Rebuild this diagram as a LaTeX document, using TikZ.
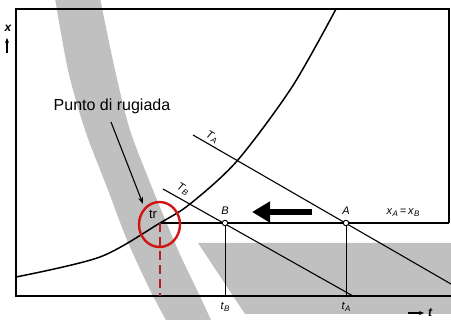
\documentclass[tikz,border=0pt]{standalone}
\usepackage{fontspec}
\setmainfont{Liberation Sans}
\usetikzlibrary{arrows.meta,positioning}
\definecolor{bandgray}{RGB}{192,192,192}
\definecolor{ringred}{RGB}{210,20,20}
\definecolor{dashred}{RGB}{185,30,30}
\newcommand{\sublbl}[2]{#1\kern0.5pt\raisebox{-0.35ex}{\fontsize{8}{8}\selectfont #2}}

\begin{document}
\begin{tikzpicture}[
    x=1pt, y=-1pt,
    frame/.style={line width=1.4pt},
    iso/.style={line width=1.1pt},
    drop/.style={line width=0.9pt},
    lbl/.style={font=\fontsize{11}{12}\selectfont\itshape, inner sep=0pt},
    pt/.style={circle, draw, fill=white, line width=0.9pt, inner sep=0pt, minimum size=5.5pt}
]
    \useasboundingbox (0,0) rectangle (451,320);
    % gray bands
    \begin{scope}
        \clip (0,0) rectangle (451,320);
        \fill[bandgray] plot[smooth] coordinates {(55,-2) (68,70) (85,130) (108,190) (127,240) (150,290) (167,322)}
            -- plot[smooth] coordinates {(212,322) (197,290) (178,250) (153,190) (130,130) (115,70) (100,-2)} -- cycle;
        \fill[bandgray] (198,243) -- (451,243) -- (451,314) -- (245,314) -- cycle;
    \end{scope}

    % frame
    \coordinate (tl) at (16,9);
    \coordinate (tr0) at (449,9);
    \coordinate (bl) at (16,296);
    \coordinate (br) at (451,296);
    \coordinate (xend) at (449,223);
    \draw[frame] (xend) -- (tr0) -- (tl) -- (bl) -- (br);

    % dew curve
    \draw[line width=1.5pt] plot[smooth] coordinates {(16,277) (100,257) (160,223) (190,204) (237,161) (292,87) (336,9)};

    % isotherms
    \coordinate (TBs) at (163,189);
    \coordinate (TBe) at (353,296);
    \coordinate (TAs) at (193,135);
    \coordinate (TAe) at (451,284);
    \draw[iso] (TBs) -- (TBe);
    \draw[iso] (TAs) -- (TAe);
    \node[lbl, rotate=-30] (TB) at (183,189) {\sublbl{T}{B}};
    \node[lbl, rotate=-30] (TA) at (212,137) {\sublbl{T}{A}};

    % points
    \coordinate (tr) at (160,223);
    \coordinate (tBx) at (225,296);
    \coordinate (tAx) at (346,296);
    \coordinate (trx) at (160,296);
    \draw[drop] (225,223) -- (tBx);
    \draw[drop] (346,223) -- (tAx);
    \draw[frame] (tr) -- (xend);
    \node[pt] (B) at (225,223) {};
    \node[pt] (A) at (346,223) {};
    \node[lbl, above=5pt of B] (Blbl) {B};
    \node[lbl, above=5pt of A] (Albl) {A};
    \node[lbl] (eq) at (403,213) {\sublbl{x}{A}\,=\,\sublbl{x}{B}};
    \node[lbl] (tB) at (225,307) {\sublbl{t}{B}};
    \node[lbl] (tA) at (346,307) {\sublbl{t}{A}};

    % big arrow
    \coordinate (pushtail) at (312,212);
    \coordinate (pushtip) at (252,212);
    \draw[line width=6pt, -{Triangle[length=18pt,width=20pt]}] (pushtail) -- (pushtip);

    % dew point
    \draw[dashred, line width=2.2pt, dash pattern=on 9pt off 5pt] (tr) -- (trx);
    \draw[ringred, line width=2.4pt] (159.5,224.5) ellipse [x radius=20.5pt, y radius=22.5pt];
    \node[font=\fontsize{13}{14}\selectfont] (trlbl) at (153,214) {tr};
    \node[font=\fontsize{16}{18}\selectfont] (note) at (112,106) {Punto di rugiada};
    \coordinate (notefoot) at (111,122);
    \coordinate (notetip) at (143,204);
    \draw[line width=1.1pt, -{Stealth[length=7pt,width=5pt]}] (notefoot) -- (notetip);

    % axes labels
    \node[font=\fontsize{12}{12}\selectfont\bfseries\itshape] (xlbl) at (8,28) {x};
    \coordinate (xup0) at (7,53);
    \coordinate (xup1) at (7,38);
    \draw[line width=1.3pt, -{Stealth[length=5pt,width=4pt]}] (xup0) -- (xup1);
    \node[font=\fontsize{12}{12}\selectfont\bfseries\itshape] (tlbl) at (430,313) {t};
    \coordinate (tr1) at (408,313);
    \coordinate (tr2) at (424,313);
    \draw[line width=1.1pt, -{Stealth[length=5pt,width=4pt]}] (tr1) -- (tr2);
\end{tikzpicture}
\end{document}
